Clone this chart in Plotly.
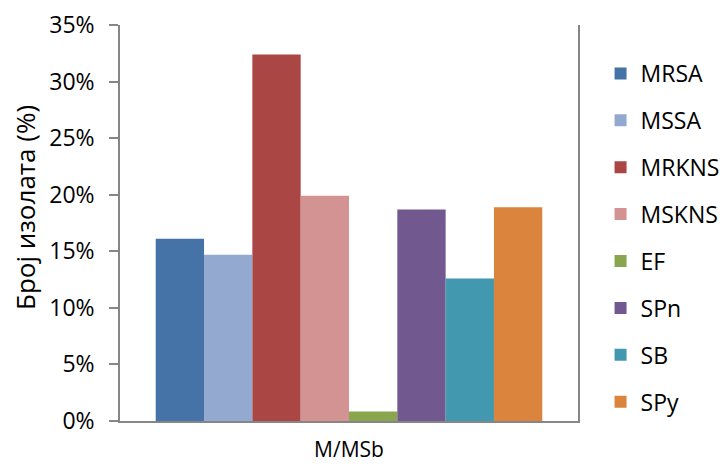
import plotly.graph_objects as go

categories = ["M/MSb"]
series_names = ["MRSA", "MSSA", "MRKNS", "MSKNS", "EF", "SPn", "SB", "SPy"]
series_values = [16.1, 14.7, 32.4, 19.9, 0.85, 18.7, 12.6, 18.9]
colors = ["#4572A7", "#93A9CF", "#AA4643", "#D39392", "#89A54E", "#71588F", "#4198AF", "#DB843D"]
y_ticks = [0, 5, 10, 15, 20, 25, 30, 35]
y_tick_labels = [f"{v}%" for v in y_ticks]
y_title = "Број изолата (%)"

FONT = "Open Sans"

fig = go.Figure()
for i, (name, val, col) in enumerate(zip(series_names, series_values, colors)):
    fig.add_trace(go.Bar(
        x=categories, y=[val], name=name, marker=dict(color=col, line=dict(width=0)),
        legendgroup=f"g{i}",
    ))

fig.add_annotation(
    text=y_title, textangle=-90, showarrow=False,
    xref="paper", yref="paper",
    x=(25 - 120) / 458, y=(421 - 208) / 396,
    xanchor="center", yanchor="middle",
    font=dict(family=FONT, size=26, color="#000000"),
)

fig.update_layout(
    width=724, height=464,
    paper_bgcolor="white", plot_bgcolor="white",
    margin=dict(l=120, r=146, t=25, b=43, autoexpand=False),
    barmode="group", bargap=0.156, bargroupgap=0,
    font=dict(family=FONT, size=22, color="#000000"),
    showlegend=True,
    legend=dict(
        xref="container", yref="container",
        x=0.8295, y=0.888, xanchor="left", yanchor="top",
        font=dict(family=FONT, size=23, color="#000000"),
        tracegroupgap=14, itemwidth=30, maxheight=460,
        bgcolor="rgba(0,0,0,0)",
    ),
    xaxis=dict(
        automargin=False,
        showline=True, linecolor="#868686", linewidth=1.5,
        ticks="", showgrid=False, zeroline=False,
        tickfont=dict(family=FONT, size=21), ticklabelstandoff=9,
    ),
    yaxis=dict(
        automargin=False,
        range=[0, 35], tickvals=y_ticks, ticktext=y_tick_labels,
        showline=True, linecolor="#868686", linewidth=1.5, mirror=True,
        ticks="outside", ticklen=9, tickcolor="#868686", tickwidth=1.5,
        showgrid=False, zeroline=False,
        tickfont=dict(family=FONT, size=23), ticklabelstandoff=10,
    ),
)

fig.write_html("out.html", config={"displayModeBar": False},
               post_script="document.body.style.margin='0';")
